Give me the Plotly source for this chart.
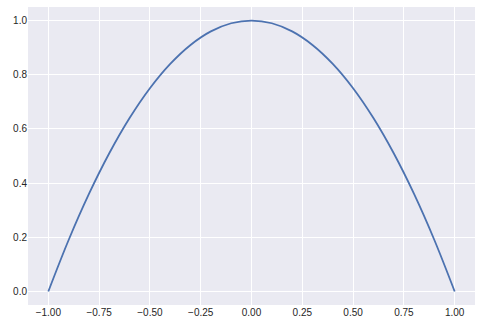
import plotly.graph_objects as go

x_vals = [-1.0, -0.9, -0.8, -0.7, -0.6, -0.5, -0.4, -0.3, -0.2, -0.1, 0.0,
          0.1, 0.2, 0.3, 0.4, 0.5, 0.6, 0.7, 0.8, 0.9, 1.0]
y_vals = [0.0, 0.19, 0.36, 0.51, 0.64, 0.75, 0.84, 0.91, 0.96, 0.99, 1.0,
          0.99, 0.96, 0.91, 0.84, 0.75, 0.64, 0.51, 0.36, 0.19, 0.0]
x_ticks = [-1.0, -0.75, -0.5, -0.25, 0.0, 0.25, 0.5, 0.75, 1.0]
x_tick_labels = ["−1.00", "−0.75", "−0.50", "−0.25", "0.00", "0.25", "0.50", "0.75", "1.00"]
y_ticks = [0.0, 0.2, 0.4, 0.6, 0.8, 1.0]
y_tick_labels = ["0.0", "0.2", "0.4", "0.6", "0.8", "1.0"]

fig = go.Figure()
fig.add_trace(go.Scatter(x=x_vals, y=y_vals, mode="lines",
                         line=dict(color="#4C72B0", width=1.8, shape="spline"),
                         showlegend=False))

fig.update_layout(
    width=481, height=330,
    margin=dict(l=28, r=6, t=7, b=25),
    paper_bgcolor="white",
    plot_bgcolor="#EAEAF2",
    font=dict(family="Liberation Sans, Arial, sans-serif", size=10, color="#262626"),
)
fig.update_xaxes(range=[-1.1, 1.1], tickvals=x_ticks, ticktext=x_tick_labels,
                 showgrid=True, gridcolor="white", gridwidth=1, zeroline=False,
                 showline=False, ticks="", ticklen=0)
fig.update_yaxes(range=[-0.05, 1.05], tickvals=y_ticks, ticktext=y_tick_labels,
                 showgrid=True, gridcolor="white", gridwidth=1, zeroline=False,
                 showline=False, ticks="")

fig.write_html("out.html")
